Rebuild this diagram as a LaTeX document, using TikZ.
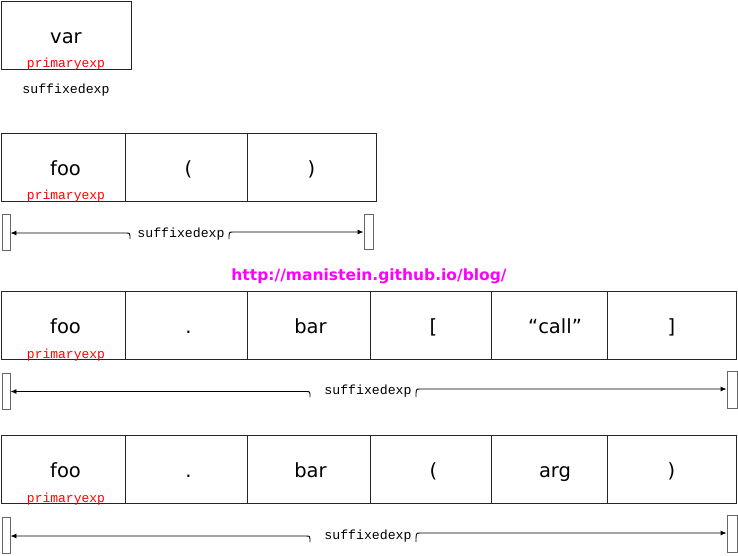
\documentclass[tikz,border=0pt]{standalone}
\usepackage{fontspec}
\setmainfont{DejaVu Sans}
\newfontfamily\monof{Liberation Mono}
\newfontfamily\wmfont{DejaVu Sans Bold}
\usetikzlibrary{arrows.meta}
\definecolor{wmmag}{RGB}{255,0,255}
\definecolor{primred}{RGB}{255,0,0}
\begin{document}
\begin{tikzpicture}[x=1pt,y=-1pt,
  cell/.style={draw=black!85, line width=0.9pt, minimum height=68pt, inner sep=0pt,
    text height=18pt, text depth=2pt, font=\fontsize{19.5}{19.5}\selectfont},
  prim/.style={text=primred, anchor=base, inner sep=0pt, font=\monof\fontsize{13}{13}\selectfont},
  lbl/.style={text=black, inner sep=1pt, fill=white, font=\monof\fontsize{13.2}{13.2}\selectfont},
  endbar/.style={draw=black!60, fill=white, line width=0.9pt, minimum width=8pt, minimum height=36pt, inner sep=0pt},
  arr/.style={line width=0.9pt, -{Latex[length=6pt,width=5pt]}}
]
\useasboundingbox (0,0) rectangle (738,555);

% Row 1
\node[cell, minimum width=130pt] (v) at (66,35) {var};
\node[prim] (v1p) at (66,67) {primaryexp};
\node[lbl, anchor=base] (v1s) at (66,93) {suffixedexp};

% Row 2
\node[cell, minimum width=124pt] (a1) at (63,167) {\hspace{5pt}foo};
\node[cell, minimum width=122pt] (a2) at (186,167) {\hspace{5pt}(};
\node[cell, minimum width=129pt] (a3) at (311.5,167) {)};
\node[prim] (a1p) at (66,199) {primaryexp};
\node[endbar] (lb2) at (6,232) {};
\node[endbar, minimum width=9pt, minimum height=35pt] (rb2) at (368.5,231.5) {};
\node[lbl] (s2) at (181,234) {suffixedexp};
\coordinate (L2s) at (130,239);
\coordinate (L2c) at (126,233);
\coordinate (R2s) at (229,239);
\coordinate (R2c) at (233,232);
\draw[arr] (L2s) .. controls (130,233) .. (L2c) -- (L2c -| lb2.east);
\draw[arr] (R2s) .. controls (229,232) .. (R2c) -- (R2c -| rb2.west);

% watermark
\node[text=wmmag, inner sep=0pt, font=\wmfont\fontsize{15.5}{15.5}\selectfont] (wm) at (369,276) {http://manistein.github.io/blog/};

% Row 3
\node[cell, minimum width=124pt] (b1) at (63,325.5) {\hspace{5pt}foo};
\node[cell, minimum width=122pt] (b2) at (186,325.5) {\hspace{5pt}.};
\node[cell, minimum width=123pt] (b3) at (308.5,325.5) {\hspace{4pt}bar};
\node[cell, minimum width=121pt] (b4) at (430.5,325.5) {\hspace{6pt}[};
\node[cell, minimum width=116pt] (b5) at (549,325.5) {\hspace{12pt}“call”};
\node[cell, minimum width=129pt] (b6) at (671.5,325.5) {]};
\node[prim] (b1p) at (66,358) {primaryexp};
\node[endbar] (lb3) at (6,391) {};
\node[endbar, minimum width=10pt, minimum height=37pt] (rb3) at (732,389.5) {};
\node[lbl] (s3) at (368,391) {suffixedexp};
\coordinate (L3s) at (310,397);
\coordinate (L3c) at (306,391.5);
\coordinate (R3s) at (416,397);
\coordinate (R3c) at (420,389);
\draw[arr] (L3s) .. controls (310,391.5) .. (L3c) -- (L3c -| lb3.east);
\draw[arr] (R3s) .. controls (416,389) .. (R3c) -- (R3c -| rb3.west);

% Row 4
\node[cell, minimum width=124pt] (c1) at (63,469.5) {\hspace{5pt}foo};
\node[cell, minimum width=122pt] (c2) at (186,469.5) {\hspace{5pt}.};
\node[cell, minimum width=123pt] (c3) at (308.5,469.5) {\hspace{4pt}bar};
\node[cell, minimum width=121pt] (c4) at (430.5,469.5) {\hspace{6pt}(};
\node[cell, minimum width=116pt] (c5) at (549,469.5) {\hspace{12pt}arg};
\node[cell, minimum width=129pt] (c6) at (671.5,469.5) {)};
\node[prim] (c1p) at (66,502) {primaryexp};
\node[endbar] (lb4) at (6,535) {};
\node[endbar, minimum width=10pt, minimum height=37pt] (rb4) at (732,533.5) {};
\node[lbl] (s4) at (368,536) {suffixedexp};
\coordinate (L4s) at (310,542);
\coordinate (L4c) at (306,536);
\coordinate (R4s) at (416,542);
\coordinate (R4c) at (420,533);
\draw[arr] (L4s) .. controls (310,536) .. (L4c) -- (L4c -| lb4.east);
\draw[arr] (R4s) .. controls (416,533) .. (R4c) -- (R4c -| rb4.west);
\end{tikzpicture}
\end{document}
